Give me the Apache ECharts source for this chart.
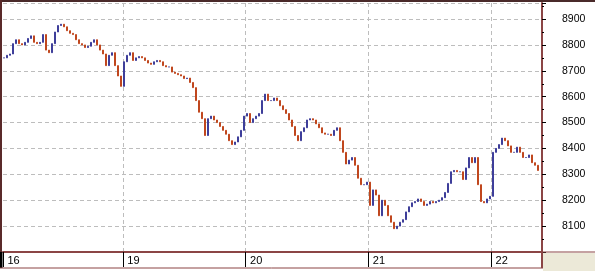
<!DOCTYPE html>
<html><head><meta charset="utf-8">
<script src="https://cdn.jsdelivr.net/npm/echarts@6/dist/echarts.min.js"></script>
<style>html,body{margin:0;padding:0;background:#fff}#c{width:595px;height:271px}</style>
</head><body><div id="c"></div>
<script>
// day labels and the category index where each day starts
const dayLabels = ['16', '19', '20', '21', '22'];
const dayStarts = [0, 40, 81, 122, 163];
const slotCount = 180;
// closing prices (intraday)
const closes = [
8750,8760,8765,8805,8820,8805,8800,8810,8825,8835,
8810,8805,8810,8840,8780,8770,8805,8850,8875,8880,
8870,8855,8845,8840,8820,8805,8800,8790,8795,8810,
8820,8800,8780,8765,8720,8760,8770,8720,8680,8640,
8735,8760,8770,8740,8750,8755,8750,8740,8730,8725,
8735,8740,8735,8720,8715,8715,8695,8690,8685,8680,
8670,8672,8655,8635,8585,8540,8515,8450,8515,8525,
8510,8500,8485,8470,8455,8430,8415,8425,8445,8470,
8525,8535,8500,8515,8525,8535,8585,8610,8585,8585,
8595,8585,8565,8550,8535,8510,8485,8450,8430,8465,
8480,8510,8515,8510,8495,8480,8460,8455,8455,8450,
8470,8480,8430,8385,8340,8355,8365,8335,8285,8260,
8260,8270,8180,8240,8220,8140,8200,8180,8140,8115,
8090,8100,8115,8125,8155,8175,8190,8195,8205,8195,
8180,8185,8195,8190,8195,8200,8210,8230,8265,8310,
8315,8310,8310,8280,8325,8365,8345,8365,8260,8195,
8190,8205,8215,8385,8400,8415,8440,8430,8410,8385,
8385,8405,8385,8365,8365,8375,8345,8335,8315
];
const yMin = 8000, yMax = 8962, yStep = 100;

const cats = [];
for (let i = 0; i < slotCount; i++) {
  const k = dayStarts.indexOf(i);
  cats.push(k >= 0 ? dayLabels[k] : '');
}
const candles = closes.map((c, i) => {
  const o = i === 0 ? c : closes[i - 1];
  return [o, c, Math.min(o, c), Math.max(o, c)];
});
const isDay = (i) => dayStarts.indexOf(i) >= 0;

const chart = echarts.init(document.getElementById('c'), null, {renderer: 'canvas'});
const frame = '#8B4545';
chart.setOption({
  animation: false,
  backgroundColor: '#ffffff',
  grid: {left: 3, right: 53, top: 3, bottom: 19, containLabel: false},
  xAxis: {
    type: 'category', data: cats, boundaryGap: true,
    axisLine: {show: true, lineStyle: {color: frame, width: 2}},
    axisTick: {show: true, interval: (i) => isDay(i), length: 15, lineStyle: {color: '#000', width: 1}},
    axisLabel: {show: true, interval: (i) => isDay(i), align: 'left', padding: [0,0,0,3], margin: 3,
      fontSize: 11, lineHeight: 11, color: '#000', fontFamily: 'Liberation Sans, Arial, sans-serif'},
    splitLine: {show: true, interval: (i) => isDay(i) && i > 0, lineStyle: {color: '#BDBDBD', type: [4, 3], width: 1}}
  },
  yAxis: {
    type: 'value', position: 'right', min: yMin, max: yMax, interval: yStep,
    axisLine: {show: true, lineStyle: {color: frame, width: 2}},
    axisTick: {show: true, length: 4, lineStyle: {color: '#000'}},
    minorTick: {show: true, splitNumber: 2, length: 2, lineStyle: {color: '#000'}},
    axisLabel: {show: true, showMinLabel: false, showMaxLabel: false, margin: 20, fontSize: 10.5, color: '#000',
      fontFamily: 'Liberation Sans, Arial, sans-serif', formatter: (v) => String(v)},
    splitLine: {show: true, lineStyle: {color: '#BDBDBD', type: [4, 3], width: 1}}
  },
  series: [{
    type: 'candlestick', data: candles, barWidth: 1.5,
    itemStyle: {color: '#3E3E9A', color0: '#C0471E', borderColor: '#3E3E9A', borderColor0: '#C0471E', borderWidth: 1}
  }],
  graphic: [
    {type: 'rect', shape: {x: 543, y: 253, width: 52, height: 18}, style: {fill: '#ECE9D8'}, z: 100},
    {type: 'line', shape: {x1: 0, y1: 1, x2: 595, y2: 1}, style: {stroke: '#4A2A2A', lineWidth: 2}, z: 100},
    {type: 'line', shape: {x1: 1, y1: 0, x2: 1, y2: 252}, style: {stroke: '#5A2A2A', lineWidth: 2}, z: 100},
    {type: 'line', shape: {x1: 1, y1: 252, x2: 1, y2: 268}, style: {stroke: '#000', lineWidth: 3}, z: 100},
    {type: 'line', shape: {x1: 0, y1: 268, x2: 543, y2: 268}, style: {stroke: frame, lineWidth: 1}, z: 100},
    {type: 'line', shape: {x1: 542, y1: 252, x2: 542, y2: 268}, style: {stroke: frame, lineWidth: 2}, z: 100},
    {type: 'line', shape: {x1: 542, y1: 252, x2: 595, y2: 252}, style: {stroke: frame, lineWidth: 1}, z: 100}
  ]
});
</script></body></html>
